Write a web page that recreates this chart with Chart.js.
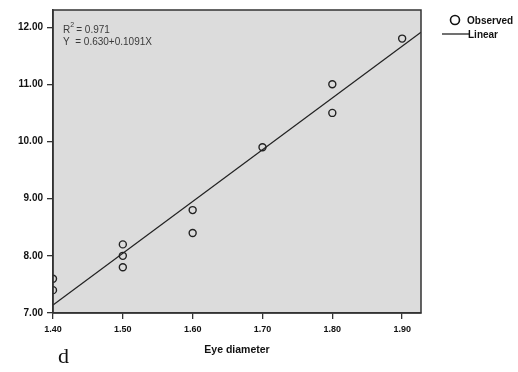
<!DOCTYPE html>
<html>
<head>
<meta charset="utf-8">
<script src="https://cdn.jsdelivr.net/npm/chart.js@4/dist/chart.umd.min.js"></script>
<style>
  html, body { margin: 0; padding: 0; background: #ffffff; }
  #wrap { width: 518px; height: 372px; position: relative; }
</style>
</head>
<body>
<div id="wrap"><canvas id="c" width="518" height="372"></canvas></div>
<script>
// ---- data ----
const eyeDiameter = [1.40, 1.40, 1.50, 1.50, 1.50, 1.60, 1.60, 1.70, 1.80, 1.80, 1.90];
const observedY   = [7.60, 7.40, 8.20, 8.00, 7.80, 8.40, 8.80, 9.90, 11.00, 10.50, 11.80];
const linearX     = [1.40, 1.927];
const linearY     = [7.14, 11.91];
const xTicks      = [1.40, 1.50, 1.60, 1.70, 1.80, 1.90];
const yTicks      = [7, 8, 9, 10, 11, 12];
const seriesNames = ['Observed', 'Linear'];
const fitLines    = ['R', '= 0.971', 'Y  = 0.630+0.1091X'];
const xTitle      = 'Eye diameter';
const panelLetter = 'd';

const ink = '#111111';

const decor = {
  id: 'decor',
  beforeDraw(chart) {
    const {ctx, chartArea: a} = chart;
    ctx.save();
    ctx.fillStyle = '#dcdcdc';
    ctx.fillRect(a.left, a.top, a.right - a.left, a.bottom - a.top);
    ctx.restore();
  },
  afterDraw(chart) {
    const {ctx, chartArea: a} = chart;
    ctx.save();
    // frame
    ctx.strokeStyle = '#333333';
    ctx.lineWidth = 1.5;
    ctx.strokeRect(a.left, a.top, a.right - a.left, a.bottom - a.top);

    // fit annotation
    ctx.fillStyle = '#3a3a3a';
    ctx.textBaseline = 'alphabetic';
    ctx.font = '10px "Liberation Sans", Arial, sans-serif';
    ctx.fillText(fitLines[0], a.left + 10, a.top + 23);
    const rw = ctx.measureText(fitLines[0]).width;
    ctx.font = '7px "Liberation Sans", Arial, sans-serif';
    ctx.fillText('2', a.left + 10 + rw, a.top + 17);
    ctx.font = '10px "Liberation Sans", Arial, sans-serif';
    ctx.fillText(fitLines[1], a.left + 10 + rw + 6, a.top + 23);
    ctx.fillText(fitLines[2], a.left + 10, a.top + 35);

    // legend
    ctx.fillStyle = ink;
    ctx.strokeStyle = ink;
    ctx.lineWidth = 1.6;
    ctx.beginPath();
    ctx.arc(455, 20, 4.5, 0, Math.PI * 2);
    ctx.stroke();
    ctx.font = 'bold 10px "Liberation Sans", Arial, sans-serif';
    ctx.textBaseline = 'middle';
    ctx.fillText(seriesNames[0], 467, 21);
    ctx.lineWidth = 1.2;
    ctx.beginPath();
    ctx.moveTo(442, 34);
    ctx.lineTo(469, 34);
    ctx.stroke();
    ctx.fillText(seriesNames[1], 468, 35);

    // panel letter
    ctx.font = '22px "Liberation Serif", "Times New Roman", serif';
    ctx.textBaseline = 'alphabetic';
    ctx.fillText(panelLetter, 58, 363);
    ctx.restore();
  }
};

new Chart(document.getElementById('c'), {
  type: 'scatter',
  data: {
    datasets: [
      {
        label: seriesNames[0],
        data: eyeDiameter.map((x, i) => ({x, y: observedY[i]})),
        showLine: false,
        pointStyle: 'circle',
        pointRadius: 3.5,
        pointBorderWidth: 1.4,
        pointBorderColor: '#222222',
        pointBackgroundColor: 'rgba(0,0,0,0)',
        order: 1
      },
      {
        label: seriesNames[1],
        data: linearX.map((x, i) => ({x, y: linearY[i]})),
        showLine: true,
        borderColor: '#222222',
        borderWidth: 1.3,
        pointRadius: 0,
        fill: false,
        order: 2
      }
    ]
  },
  options: {
    responsive: false,
    animation: false,
    devicePixelRatio: 1,
    layout: { padding: { left: 0, top: 10, right: 97, bottom: 0 } },
    plugins: { legend: { display: false }, tooltip: { enabled: false } },
    scales: {
      x: {
        type: 'linear',
        min: 1.40,
        max: 1.927,
        afterBuildTicks(s) { s.ticks = xTicks.map(v => ({value: v})); },
        afterFit(s) { s.height = 59; },
        grid: { drawOnChartArea: false, drawTicks: true, tickLength: 6, color: '#333333', lineWidth: 1.3 },
        border: { display: true, color: '#333333', width: 1.5 },
        ticks: {
          color: ink,
          padding: 5,
          maxRotation: 0,
          font: { family: '"Liberation Sans", Arial, sans-serif', size: 9, weight: 'bold' },
          callback: v => Number(v).toFixed(2)
        },
        title: {
          display: true,
          text: xTitle,
          color: ink,
          font: { family: '"Liberation Sans", Arial, sans-serif', size: 10.5, weight: 'bold' },
          padding: { top: 4, bottom: 16 }
        }
      },
      y: {
        type: 'linear',
        min: 7,
        max: 12.3,
        afterBuildTicks(s) { s.ticks = yTicks.map(v => ({value: v})); },
        afterFit(s) { s.width = 53; },
        grid: { drawOnChartArea: false, drawTicks: true, tickLength: 6, color: '#333333', lineWidth: 1.3 },
        border: { display: true, color: '#333333', width: 1.5 },
        ticks: {
          color: ink,
          padding: 4,
          font: { family: '"Liberation Sans", Arial, sans-serif', size: 10, weight: 'bold' },
          callback: v => Number(v).toFixed(2)
        }
      }
    }
  },
  plugins: [decor]
});
</script>
</body>
</html>
